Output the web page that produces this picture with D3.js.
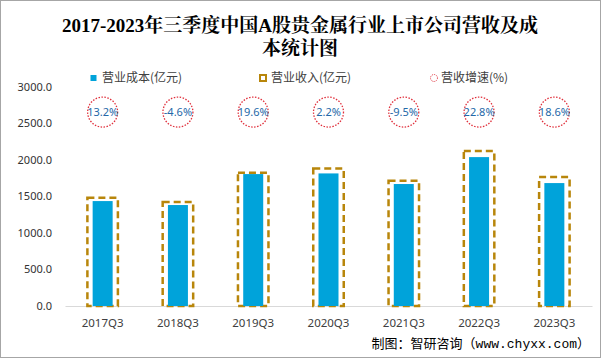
<!DOCTYPE html>
<html>
<head>
<meta charset="utf-8">
<script src="https://cdn.jsdelivr.net/npm/d3@7"></script>
<style>
  body { margin: 0; background: #fff; }
  svg { display: block; font-family: "Microsoft YaHei", "Noto Sans CJK SC", sans-serif; }
</style>
</head>
<body>
<svg width="601" height="358"></svg>
<script>
var categories = ["2017Q3", "2018Q3", "2019Q3", "2020Q3", "2021Q3", "2022Q3", "2023Q3"];
var cost = [1434, 1380, 1803, 1812, 1667, 2035, 1680];
var revenue = [1480, 1420, 1820, 1880, 1712, 2117, 1762];
var growth = [13.2, -4.6, 19.6, 2.2, -9.5, 22.8, 18.6];
var yTicks = [0, 500, 1000, 1500, 2000, 2500, 3000];

var svg = d3.select("svg");

// outer frame
svg.append("rect")
    .attr("x", 0.5).attr("y", 0.5)
    .attr("width", 600).attr("height", 357)
    .attr("fill", "none")
    .attr("stroke", "#a6a6a6");

var x = d3.scaleBand()
    .domain(categories)
    .range([65, 592]);

var y = d3.scaleLinear()
    .domain([0, 3000])
    .range([306, 86.5]);

// title
var title = svg.append("text")
    .attr("text-anchor", "middle")
    .attr("font-family", "'Liberation Serif', 'Noto Serif CJK SC', 'Noto Sans CJK SC', serif")
    .attr("font-weight", "bold")
    .attr("font-size", 19)
    .attr("fill", "#000");
title.append("tspan").attr("x", 300).attr("y", 32)
    .text("2017-2023年三季度中国A股贵金属行业上市公司营收及成");
title.append("tspan").attr("x", 300).attr("y", 55)
    .text("本统计图");

// y axis labels
var yAxis = d3.axisLeft(y)
    .tickValues(yTicks)
    .tickFormat(d3.format(".1f"))
    .tickSize(0)
    .tickPadding(13);
svg.append("g")
    .attr("transform", "translate(65,0)")
    .call(yAxis)
    .call(function (g) { g.select(".domain").remove(); })
    .selectAll("text")
    .attr("font-size", 11)
    .attr("font-family", "'Noto Sans', sans-serif")
    .attr("fill", "#333");

// x axis
var xAxis = d3.axisBottom(x).tickSize(0).tickPadding(13);
svg.append("g")
    .attr("transform", "translate(0,306)")
    .call(xAxis)
    .call(function (g) { g.select(".domain").attr("stroke", "#d9d9d9"); })
    .selectAll("text")
    .attr("font-size", 11.5)
    .attr("font-family", "'Noto Sans', sans-serif")
    .attr("fill", "#404040");

// revenue: dashed boxes
var revW = 30.5;
svg.selectAll("rect.rev")
    .data(revenue)
    .enter().append("rect")
    .attr("class", "rev")
    .attr("x", function (d, i) { return x(categories[i]) + x.bandwidth() / 2 - revW / 2; })
    .attr("y", function (d) { return y(d); })
    .attr("width", revW)
    .attr("height", function (d) { return y(0) - y(d); })
    .attr("fill", "none")
    .attr("stroke", "#b8860b")
    .attr("stroke-width", 2.5)
    .attr("stroke-dasharray", "7,4");

// cost bars
var costW = 20;
svg.selectAll("rect.cost")
    .data(cost)
    .enter().append("rect")
    .attr("class", "cost")
    .attr("x", function (d, i) { return x(categories[i]) + x.bandwidth() / 2 - costW / 2; })
    .attr("y", function (d) { return y(d); })
    .attr("width", costW)
    .attr("height", function (d) { return y(0) - y(d); })
    .attr("fill", "#00a3da");

// growth rate bubbles
var rateY = y(2650);
var rate = svg.selectAll("g.rate")
    .data(growth)
    .enter().append("g")
    .attr("class", "rate")
    .attr("transform", function (d, i) {
        return "translate(" + (x(categories[i]) + x.bandwidth() / 2) + "," + rateY + ")";
    });
rate.append("circle")
    .attr("r", 15)
    .attr("fill", "none")
    .attr("stroke", "#e0303c")
    .attr("stroke-width", 1.3)
    .attr("stroke-dasharray", "1.5,1.5");
rate.append("text")
    .attr("text-anchor", "middle")
    .attr("dy", "0.36em")
    .attr("font-size", 11)
    .attr("font-family", "'Noto Sans', sans-serif")
    .attr("fill", "#2468a8")
    .text(function (d) { return d.toFixed(1) + "%"; });

// legend
var legend = svg.append("g").attr("font-size", 12).attr("fill", "#404040");
legend.append("rect").attr("x", 90.5).attr("y", 75).attr("width", 6).attr("height", 6).attr("fill", "#00a3da");
legend.append("text").attr("x", 102).attr("y", 82).text("营业成本(亿元)");
legend.append("rect").attr("x", 260).attr("y", 75).attr("width", 6).attr("height", 6)
    .attr("fill", "none").attr("stroke", "#b8860b").attr("stroke-width", 2);
legend.append("text").attr("x", 271).attr("y", 82).text("营业收入(亿元)");
legend.append("circle").attr("cx", 434).attr("cy", 78).attr("r", 3.5)
    .attr("fill", "none").attr("stroke", "#e0303c").attr("stroke-width", 1).attr("stroke-dasharray", "1,1");
legend.append("text").attr("x", 441).attr("y", 82).text("营收增速(%)");

// source
svg.append("text")
    .attr("x", 590).attr("y", 348)
    .attr("text-anchor", "end")
    .attr("font-size", 13)
    .attr("font-family", "'Liberation Mono', 'Noto Sans CJK SC', monospace")
    .attr("fill", "#000")
    .text("制图：智研咨询（www.chyxx.com）");
</script>
</body>
</html>
